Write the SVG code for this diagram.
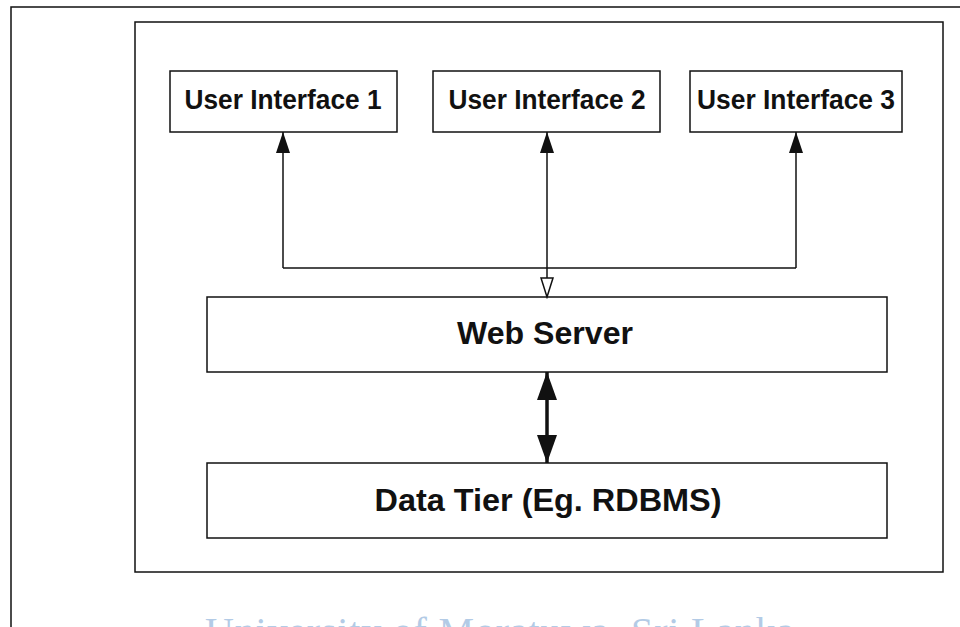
<svg xmlns="http://www.w3.org/2000/svg" width="960" height="627" viewBox="0 0 960 627">
<style>
.box{fill:#fff;stroke:#111;stroke-width:1.5}
.lbl{font-family:"Liberation Sans",Arial,sans-serif;font-weight:bold;font-size:27px;fill:#111;text-anchor:middle}
.big{font-size:31px}
.thin{fill:none;stroke:#111;stroke-width:1.5}
.thick{fill:none;stroke:#111;stroke-width:3.5}
.wm{font-family:"Liberation Serif","Times New Roman",serif;font-size:40px;fill:#b3cbe6}
</style>
<defs>
<marker id="ah" markerUnits="userSpaceOnUse" markerWidth="22" markerHeight="14" refX="21" refY="7" orient="auto" viewBox="0 0 22 14">
<path d="M0,0 L21,7 L0,14 Z" fill="#111"/>
</marker>
<marker id="ao" markerUnits="userSpaceOnUse" markerWidth="22" markerHeight="14" refX="20" refY="7" orient="auto" viewBox="0 0 22 14">
<path d="M1,1 L20,7 L1,13 Z" fill="#fff" stroke="#111" stroke-width="1.5"/>
</marker>
<marker id="ab" markerUnits="userSpaceOnUse" markerWidth="30" markerHeight="20" refX="28" refY="10" orient="auto" viewBox="0 0 30 20">
<path d="M0,0 L28,10 L0,20 Z" fill="#111"/>
</marker>
</defs>
<g id="frame">
<path d="M11,627 L11,7 L960,7" fill="none" stroke="#111" stroke-width="1.5"/>
</g>
<g id="container">
<rect class="box" x="135" y="22" width="808" height="550"/>
</g>
<g id="ui1">
<rect class="box" x="170" y="71" width="227" height="61"/>
<text class="lbl" x="283" y="109" textLength="197" lengthAdjust="spacingAndGlyphs">User Interface 1</text>
</g>
<g id="ui2">
<rect class="box" x="433" y="71" width="227" height="61"/>
<text class="lbl" x="547" y="109" textLength="197" lengthAdjust="spacingAndGlyphs">User Interface 2</text>
</g>
<g id="ui3">
<rect class="box" x="690" y="71" width="212" height="61"/>
<text class="lbl" x="796" y="109" textLength="198" lengthAdjust="spacingAndGlyphs">User Interface 3</text>
</g>
<g id="webserver">
<rect class="box" x="207" y="297" width="680" height="75"/>
<text class="lbl big" x="545" y="344" textLength="176" lengthAdjust="spacingAndGlyphs">Web Server</text>
</g>
<g id="datatier">
<rect class="box" x="207" y="463" width="680" height="75"/>
<text class="lbl big" x="548" y="511" textLength="347" lengthAdjust="spacingAndGlyphs">Data Tier (Eg. RDBMS)</text>
</g>
<g id="connectors">
<path class="thin" d="M283,268 L283,132" marker-end="url(#ah)"/>
<path class="thin" d="M796,268 L796,132" marker-end="url(#ah)"/>
<path class="thin" d="M283,268 L796,268"/>
<path class="thin" d="M547,210 L547,132" marker-end="url(#ah)"/>
<path class="thin" d="M547,210 L547,297" marker-end="url(#ao)"/>
<path class="thick" d="M547,418 L547,372" marker-end="url(#ab)"/>
<path class="thick" d="M547,418 L547,463" marker-end="url(#ab)"/>
</g>
<g id="watermark">
<text class="wm" x="205" y="645" textLength="600" lengthAdjust="spacing">University of Moratuwa, Sri Lanka.</text>
</g>
</svg>
